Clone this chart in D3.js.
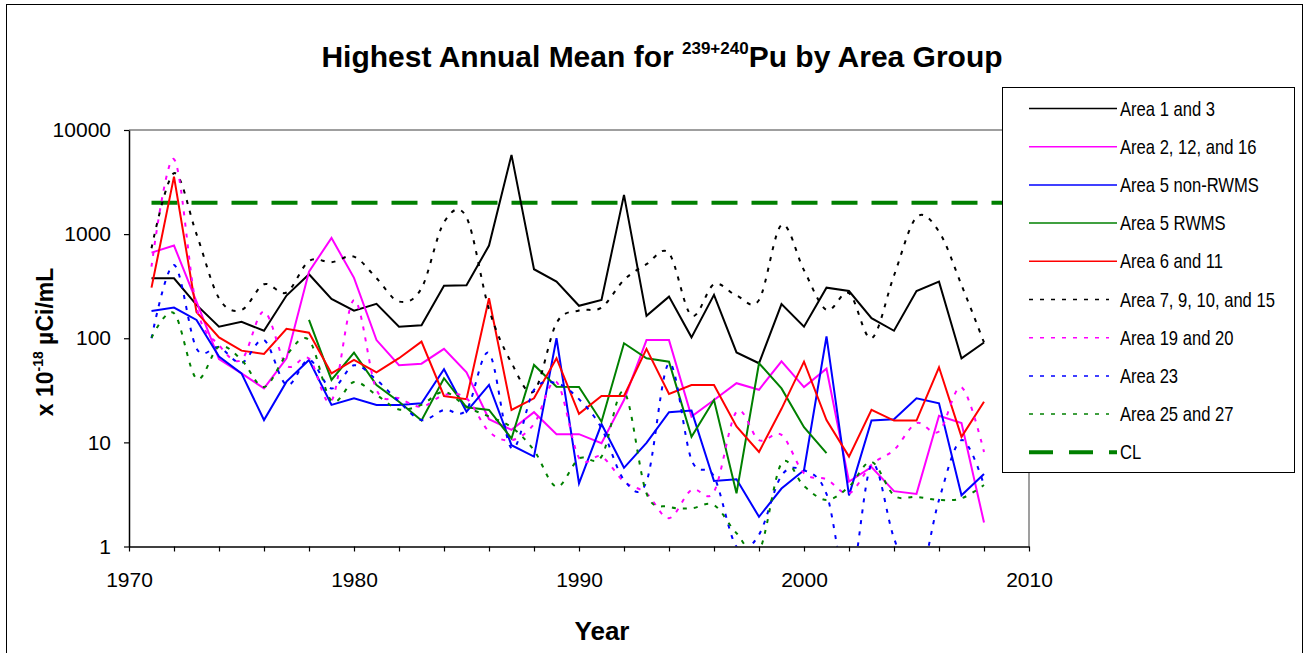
<!DOCTYPE html>
<html><head><meta charset="utf-8">
<script src="https://cdn.jsdelivr.net/npm/d3@7"></script>
<style>
body{margin:0;background:#fff;}
svg{display:block;font-family:"Liberation Sans",Arial,Helvetica,sans-serif;}
</style>
</head><body>
<svg id="chart" width="1308" height="653"></svg>
<script>
// ---------------- DATA ----------------
const years = [1971,1972,1973,1974,1975,1976,1977,1978,1979,1980,
               1981,1982,1983,1984,1985,1986,1987,1988,1989,1990,
               1991,1992,1993,1994,1995,1996,1997,1998,1999,2000,
               2001,2002,2003,2004,2005,2006,2007,2008];

const area1and3 = [377,377,209,129,144,118,257,412,239,184,
                   214,129,133,320,323,776,5770,460,350,205,
                   233,2380,164,251,102,261,73,57.5,213,129,
                   306,284,156,118,284,350,64,91];

const area2_12_16 = [664,776,225,63,46,33,64,436,919,380,
                     96,55,57,79,47,16.7,13.2,19.5,12,12,
                     9.8,25.5,96,96,17.7,25.5,37,32,60,34,
                     51,4.2,5.8,3.4,3.2,18,15.3,1.7];

const area5nonRWMS = [183,197,150,66.6,46,16.4,38.3,61.9,22.9,26.5,
                      22.9,22.9,23.7,50.4,19.7,35.6,9.4,7.3,100,4.05,
                      15,5.7,9.9,19.5,20.2,4.26,4.42,1.93,3.6,5.4,
                      104,3.1,16.2,16.7,26.5,23.7,3.1,4.97];

const area5RWMS = [null,null,null,null,null,null,null,150,39.8,72.8,
                   35.6,24.6,16.2,41.3,21.7,20.5,10.9,55.4,34.3,34,
                   15.8,89.5,64.3,59.6,11.3,25.5,3.24,57.5,33,14,
                   7.9,null,null,null,null,null,null,null];

const area6and11 = [306,3565,178,102,76,70.7,123,113,46,61.9,
                    47.1,64.3,92.7,27.9,26,242,20.5,26.5,64.3,18.8,
                    27.9,27.9,79,29.2,35.6,35.6,14.2,8.1,21,59.6,
                    16.4,7.3,20.5,16.2,16.2,52.6,11.3,24.6];

const area7_9_10_15 = [732,3846,1000,242,187,330,275,552,537,608,
                       377,225,302,1300,1450,190,58,31,140,185,
                       197,363,514,655,165,330,257,233,1225,450,
                       187,271,100,400,1450,1057,325,91];

const area19and20 = [487,5250,200,86,62,180,55,64,25,233,
                     32,26.5,22,28.5,26.5,12.7,10.5,15,38,7.1,
                     7.3,4.2,3.24,1.87,3.5,3.36,19.7,10.5,11.8,5.05,
                     4.42,3.24,6.1,8.45,15.3,12.7,33.8,8.1];

const area23 = [100,506,80,82,58,96,35.6,62,33,55,
                39.8,24.6,16.4,20.5,20.5,72,8.8,31.9,37,26,
                13.7,4.36,4.2,57.5,6.8,4.7,1.0,1.3,4.8,5.4,
                3.2,0.4,6.1,1.2,0.4,2.8,10.5,3.9];

const area25and27 = [101,174,41,83,62,34,69,96,25,38,
                     28.5,20.7,23,30.6,22,17.7,14,8.4,3.75,7.0,
                     7.3,30.6,3.24,2.41,2.33,2.5,1.34,0.9,6.3,3.8,
                     2.8,3.75,6.5,3.1,3.0,2.8,2.9,3.9];

const clYears = [1971, 2010];
const clValue = 2000;

const yTickValues = [1,10,100,1000,10000];
const xTickValues = [1970,1972,1974,1976,1978,1980,1982,1984,1986,1988,1990,
                     1992,1994,1996,1998,2000,2002,2004,2006,2008,2010];
const xLabelValues = [1970,1980,1990,2000,2010];

const seriesNames = ["Area 1 and 3","Area 2, 12, and 16","Area 5 non-RWMS","Area 5 RWMS",
                     "Area 6 and 11","Area 7, 9, 10, and 15","Area 19 and 20","Area 23",
                     "Area 25 and 27","CL"];

// ---------------- STYLE ----------------
const series = [
  {name:seriesNames[0], values:area1and3,     color:"#000000", dotted:false},
  {name:seriesNames[1], values:area2_12_16,   color:"#FF00FF", dotted:false},
  {name:seriesNames[2], values:area5nonRWMS,  color:"#0000FF", dotted:false},
  {name:seriesNames[3], values:area5RWMS,     color:"#008000", dotted:false},
  {name:seriesNames[4], values:area6and11,    color:"#FF0000", dotted:false},
  {name:seriesNames[5], values:area7_9_10_15, color:"#000000", dotted:true},
  {name:seriesNames[6], values:area19and20,   color:"#FF00FF", dotted:true},
  {name:seriesNames[7], values:area23,        color:"#0000FF", dotted:true},
  {name:seriesNames[8], values:area25and27,   color:"#008000", dotted:true}
];

const svg = d3.select("#chart");
const L = 129, R = 1029, T = 130, B = 546.5;

const x = d3.scaleLinear().domain([1970,2010]).range([L,R]);
const y = d3.scaleLog().domain([1,10000]).range([B,T]);

// outer frame
svg.append("rect").attr("x",6.5).attr("y",4.5).attr("width",1296).attr("height",700)
  .attr("fill","none").attr("stroke","#000").attr("stroke-width",1);

// plot area border (top/right grey)
svg.append("path")
  .attr("d",`M${L},${T}H${R}V${B}`)
  .attr("fill","none").attr("stroke","#808080").attr("stroke-width",1.5);

svg.append("clipPath").attr("id","clip").append("rect")
  .attr("x",L).attr("y",T).attr("width",R-L).attr("height",B-T);

const plot = svg.append("g").attr("clip-path","url(#clip)");

// CL line
plot.append("path")
  .datum(clYears)
  .attr("d", d3.line().x(d=>x(d)).y(()=>y(clValue)))
  .attr("fill","none").attr("stroke","#008000").attr("stroke-width",4)
  .attr("stroke-dasharray","26,14");

// series lines
series.forEach(s=>{
  const pts = years.map((yr,i)=>({yr, v:s.values[i]}));
  const line = d3.line()
    .defined(d=>d.v!=null)
    .x(d=>x(d.yr)).y(d=>y(d.v))
    .curve(s.dotted ? d3.curveCardinal.tension(0) : d3.curveLinear);
  plot.append("path").datum(pts)
    .attr("d",line)
    .attr("fill","none")
    .attr("stroke",s.color)
    .attr("stroke-width",2)
    .attr("stroke-dasharray", s.dotted ? "4,7" : null);
});

// axes
const yAxis = d3.axisLeft(y).tickValues(yTickValues).tickFormat(d3.format("d"))
  .tickSize(5).tickSizeOuter(0).tickPadding(13);
const gy = svg.append("g").attr("transform",`translate(${L},0)`).call(yAxis);
gy.select(".domain").attr("stroke","#000").attr("stroke-width",1.5);
gy.selectAll(".tick line").attr("stroke","#000").attr("stroke-width",1.2);
gy.selectAll(".tick text").attr("font-size",21).attr("font-family","Liberation Sans, Arial, sans-serif").attr("fill","#000");

const xAxis = d3.axisBottom(x).tickValues(xTickValues)
  .tickFormat(d=> xLabelValues.includes(d) ? String(d) : "")
  .tickSize(5).tickSizeOuter(0).tickPadding(21);
const gx = svg.append("g").attr("transform",`translate(0,${B})`).call(xAxis);
gx.select(".domain").attr("stroke","#000").attr("stroke-width",1.5);
gx.selectAll(".tick line").attr("stroke","#000").attr("stroke-width",1.2);
gx.selectAll(".tick text").attr("font-size",21).attr("font-family","Liberation Sans, Arial, sans-serif").attr("fill","#000");

// title
const title = svg.append("text").attr("x",662).attr("y",67)
  .attr("text-anchor","middle").attr("font-weight","bold").attr("font-size",30);
title.append("tspan").text("Highest Annual Mean for ");
title.append("tspan").attr("font-size",17).attr("dy",-13).text("239+240");
title.append("tspan").attr("dy",13).text("Pu by Area Group");

// y label
const yl = svg.append("text").attr("transform","translate(53,342) rotate(-90)")
  .attr("text-anchor","middle").attr("font-weight","bold").attr("font-size",23);
yl.append("tspan").text("x 10");
yl.append("tspan").attr("font-size",14).attr("dy",-10).text("-18");
yl.append("tspan").attr("dy",10).text(" µCi/mL");

// x label
svg.append("text").attr("x",602).attr("y",640).attr("text-anchor","middle")
  .attr("font-weight","bold").attr("font-size",26).text("Year");

// legend
const lg = svg.append("g");
lg.append("rect").attr("x",1002.5).attr("y",87.5).attr("width",292).attr("height",385)
  .attr("fill","#fff").attr("stroke","#000").attr("stroke-width",1);
const legendItems = series.map(s=>({name:s.name,color:s.color,dotted:s.dotted,cl:false}))
  .concat([{name:seriesNames[9],color:"#008000",dotted:false,cl:true}]);
legendItems.forEach((it,i)=>{
  const ry = 108.5 + i*38.2;
  lg.append("line").attr("x1",1029).attr("x2",it.cl?1117:(it.dotted?1109:1117))
    .attr("y1",ry).attr("y2",ry)
    .attr("stroke",it.color)
    .attr("stroke-width", it.cl?4:1.5)
    .attr("stroke-dasharray", it.cl ? "24,16" : (it.dotted ? "4,7" : null));
  lg.append("g").attr("transform",`translate(1120,${ry+7}) scale(0.83,1)`)
    .append("text").attr("font-size",20).attr("fill","#000").text(it.name);
});
</script>
</body></html>
